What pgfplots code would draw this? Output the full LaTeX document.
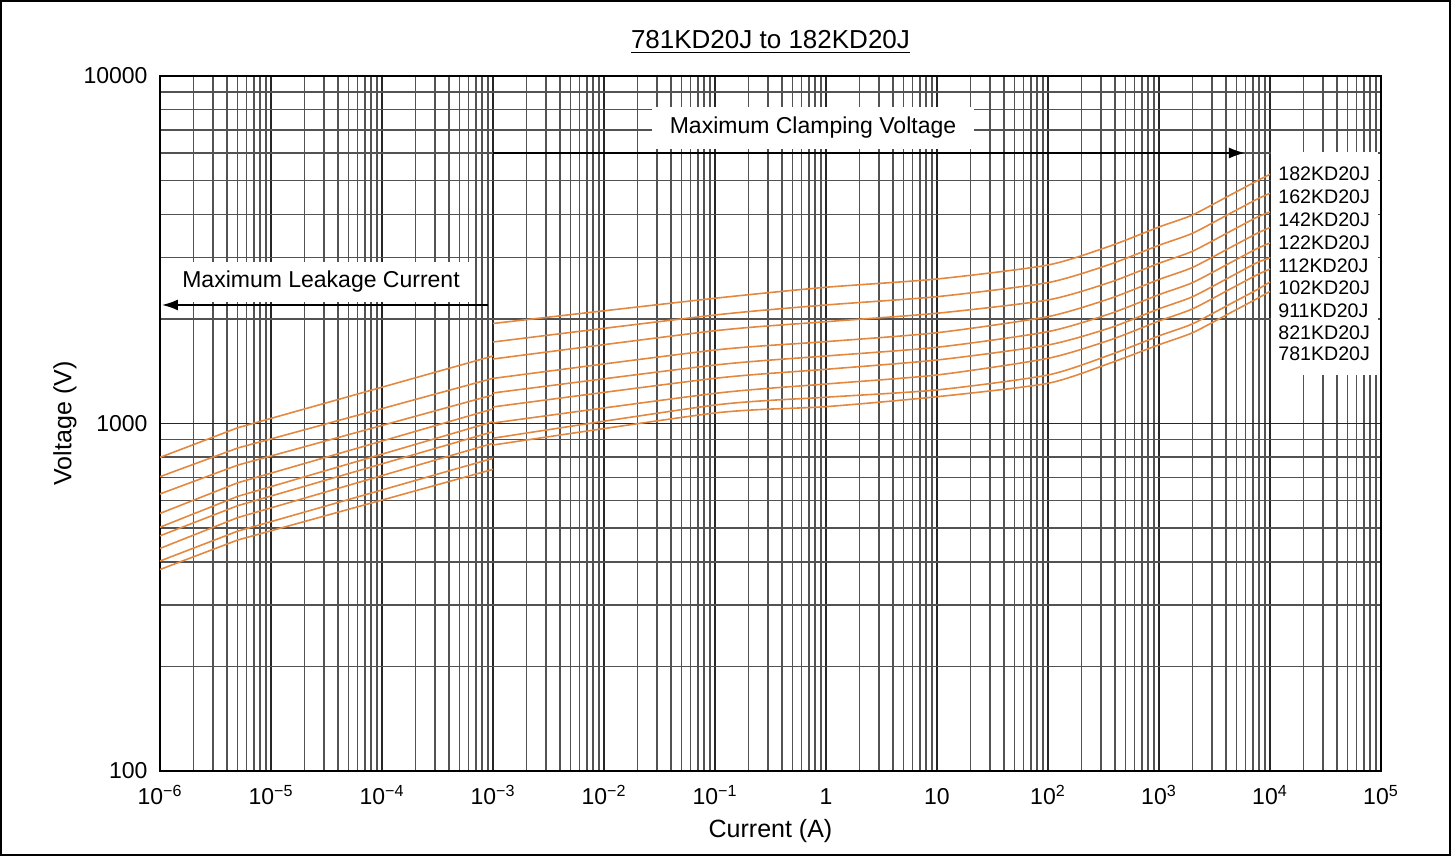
\documentclass[border=0pt]{standalone}
\usepackage{pgfplots}
\pgfplotsset{compat=1.18}
\usepackage{pgfplotstable}
\usepackage{fontspec}
\setmainfont{Liberation Sans}
\usetikzlibrary{arrows.meta}
\definecolor{curve}{RGB}{228,136,64}

\pgfplotstableread{
x v182 v162 v142 v122 v112 v102 v911 v821 v781
1e-6 799 703 627 551 503 475 437 402 380
5.01e-6 972 850 759 675 617 580 536 490 462
1e-3 1564 1349 1208 1101 1012 947 877 794 738
}\leak

\pgfplotstableread{
x v182 v162 v142 v122 v112 v102 v911 v821 v781
1e-3 1940 1716 1533 1348 1224 1116 1003 907 867
0.1 2293 2052 1849 1627 1473 1349 1221 1130 1072
1 2466 2193 1963 1720 1564 1432 1299 1190 1118
10 2605 2317 2076 1825 1657 1523 1379 1249 1194
100 2858 2543 2267 2030 1838 1682 1540 1379 1305
363 3242 2872 2549 2289 2070 1885 1739 1576 1492
1000 3677 3257 2891 2597 2348 2138 1972 1787 1685
2000 3981 3526 3130 2811 2542 2315 2136 1935 1824
4400 4546 4027 3574 3210 2902 2643 2439 2209 2082
7600 4987 4417 3921 3522 3184 2901 2675 2424 2285
10000 5213 4597 4061 3664 3307 2994 2783 2554 2399
}\clamp

\begin{document}
\begin{tikzpicture}
\begin{axis}[
  at={(0,0)}, anchor=south west,
  scale only axis, width=610.5pt, height=347.5pt,
  xmode=log, ymode=log,
  xmin=1e-6, xmax=1e5, ymin=100, ymax=10000,
  clip mode=individual,
  xtick={1e-6,1e-5,1e-4,1e-3,1e-2,1e-1,1,10,100,1000,10000,100000},
  xticklabels={10\textsuperscript{−6},10\textsuperscript{−5},10\textsuperscript{−4},10\textsuperscript{−3},10\textsuperscript{−2},10\textsuperscript{−1},1,10,10\textsuperscript{2},10\textsuperscript{3},10\textsuperscript{4},10\textsuperscript{5}},
  minor xtick={2e-6,3e-6,4e-6,5e-6,6e-6,7e-6,8e-6,9e-6,
    2e-5,3e-5,4e-5,5e-5,6e-5,7e-5,8e-5,9e-5,
    2e-4,3e-4,4e-4,5e-4,6e-4,7e-4,8e-4,9e-4,
    2e-3,3e-3,4e-3,5e-3,6e-3,7e-3,8e-3,9e-3,
    2e-2,3e-2,4e-2,5e-2,6e-2,7e-2,8e-2,9e-2,
    0.2,0.3,0.4,0.5,0.6,0.7,0.8,0.9,
    2,3,4,5,6,7,8,9,
    20,30,40,50,60,70,80,90,
    200,300,400,500,600,700,800,900,
    2000,3000,4000,5000,6000,7000,8000,9000,
    20000,30000,40000,50000,60000,70000,80000,90000},
  ytick={100,1000,10000},
  yticklabels={100,1000,10000},
  minor ytick={200,300,400,500,600,700,800,900,2000,3000,4000,5000,6000,7000,8000,9000},
  grid=both,
  major grid style={black!85, line width=0.9pt},
  minor grid style={black!68, line width=0.75pt},
  major tick length=0pt, minor tick length=0pt,
  axis line style={black, line width=0.8pt},
  tick label style={font=\fontsize{11.5}{13}\selectfont},
  xticklabel style={anchor=base, yshift=-17pt},
  yticklabel style={anchor=east, xshift=-2.7pt},
  xlabel={Current (A)}, ylabel={Voltage (V)},
  label style={font=\fontsize{12.5}{14}\selectfont},
  xlabel style={at={(axis description cs:0.5,-0.0863)}, anchor=center},
  ylabel style={at={(axis description cs:-0.0778,0.5)}, anchor=center},
]
% white boxes
\fill[white] (rel axis cs:0.9099,0.5698) rectangle (rel axis cs:0.9975,0.8906);
\node[fill=white, inner xsep=4.5pt, inner ysep=4.5pt, font=\fontsize{11.5}{13}\selectfont] at (rel axis cs:0.1319,0.7036) {Maximum Leakage Current};
\node[fill=white, inner xsep=9pt, inner ysep=5pt, font=\fontsize{11.5}{13}\selectfont] at (rel axis cs:0.5348,0.9252) {Maximum Clamping Voltage};
\draw[line width=0.9pt, -{Latex[length=8pt,width=5.5pt]}] (rel axis cs:0.2727,0.8892) -- (rel axis cs:0.8886,0.8892);
\draw[line width=0.9pt, -{Latex[length=8pt,width=5.5pt]}] (rel axis cs:0.2686,0.6705) -- (rel axis cs:0.0016,0.6705);

\foreach \c in {v182,v162,v142,v122,v112,v102,v911,v821,v781}{
  \addplot[curve, line width=0.8pt] table[x=x, y=\c] {\leak};
  \addplot[curve, line width=0.8pt, smooth, tension=0.4] table[x=x, y=\c] {\clamp};
}

\node[font=\fontsize{13}{15}\selectfont] at (rel axis cs:0.5,1.049) {\underline{781KD20J to 182KD20J}};

\begin{scope}[every node/.style={anchor=west, inner sep=0pt, font=\fontsize{9.8}{11}\selectfont}]
\node at (rel axis cs:0.9156,0.8590) {182KD20J};
\node at (rel axis cs:0.9156,0.8259) {162KD20J};
\node at (rel axis cs:0.9156,0.7935) {142KD20J};
\node at (rel axis cs:0.9156,0.7604) {122KD20J};
\node at (rel axis cs:0.9156,0.7273) {112KD20J};
\node at (rel axis cs:0.9156,0.6950) {102KD20J};
\node at (rel axis cs:0.9156,0.6626) {911KD20J};
\node at (rel axis cs:0.9156,0.6309) {821KD20J};
\node at (rel axis cs:0.9156,0.6000) {781KD20J};
\end{scope}
\end{axis}
\pgfresetboundingbox
\path[use as bounding box] (-80pt,-42.5pt) rectangle (645.5pt,385.5pt);
\draw[line width=0.8pt] (-79.6pt,-42.1pt) rectangle (645.1pt,385.1pt);
\end{tikzpicture}
\end{document}
